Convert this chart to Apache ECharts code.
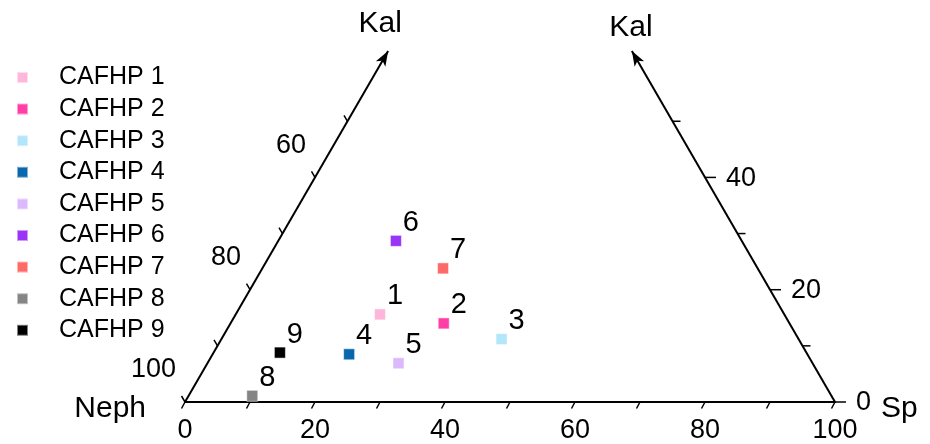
<!DOCTYPE html>
<html>
<head>
<meta charset="utf-8">
<script src="https://cdn.jsdelivr.net/npm/echarts@6/dist/echarts.min.js"></script>
<style>
html, body { margin: 0; padding: 0; background: #ffffff; }
#main { width: 930px; height: 444px; }
</style>
</head>
<body>
<div id="main"></div>
<script>
// samples
const names = ['CAFHP 1', 'CAFHP 2', 'CAFHP 3', 'CAFHP 4', 'CAFHP 5', 'CAFHP 6', 'CAFHP 7', 'CAFHP 8', 'CAFHP 9'];
const colors = ['#ffb6db', '#ff3fa6', '#b3e5fb', '#0a67ad', '#dcb9fc', '#9a35f7', '#fe6a68', '#858585', '#000000'];
// composition in % (Neph = 100 - Sp - Kal)
const kal = [15.6, 14.0, 11.2, 8.5, 6.9, 28.7, 23.8, 1.1, 8.8];
const sp = [22.2, 32.8, 43.1, 21.0, 29.4, 18.1, 27.8, 9.8, 10.2];

// axes
const bottomTicks = [0, 10, 20, 30, 40, 50, 60, 70, 80, 90, 100];
const sideTicks = [0, 10, 20, 30, 40, 50];
const sideLabelPos = [0, 20, 40];      // Kal value where a side label sits
const leftLabels = ['100', '80', '60'];
const rightLabels = ['0', '20', '40'];
const axisTop = 62.5;                  // Kal value where the side arrows end

const H = Math.sqrt(3) / 2;
const FONT = '"Liberation Sans", Arial, sans-serif';

// ternary (Sp, Kal) -> plane
function toXY(s, k) {
  return [s + k / 2, k * H];
}

function line(a, b, w) {
  return {
    type: 'line',
    shape: { x1: a[0], y1: a[1], x2: b[0], y2: b[1] },
    style: { stroke: '#000', lineWidth: w }
  };
}

function text(p, str, size, align) {
  return {
    type: 'text',
    x: p[0],
    y: p[1],
    style: {
      text: str, fill: '#000', fontSize: size, fontFamily: FONT,
      align: align, verticalAlign: 'middle'
    }
  };
}

function arrow(from, tip) {
  const dx = tip[0] - from[0], dy = tip[1] - from[1];
  const len = Math.sqrt(dx * dx + dy * dy);
  const ux = dx / len, uy = dy / len;
  const nx = -uy, ny = ux;
  const L = 15, W = 5.5;
  return {
    type: 'polygon',
    shape: {
      points: [
        tip,
        [tip[0] - ux * L + nx * W, tip[1] - uy * L + ny * W],
        [tip[0] - ux * L * 0.75, tip[1] - uy * L * 0.75],
        [tip[0] - ux * L - nx * W, tip[1] - uy * L - ny * W]
      ]
    },
    style: { fill: '#000' }
  };
}

function renderFrame(params, api) {
  const els = [];
  const bl = api.coord([0, 0]);
  const br = api.coord([100, 0]);
  const lt = api.coord(toXY(0, axisTop));
  const rt = api.coord(toXY(100 - axisTop, axisTop));

  els.push(line(bl, lt, 2), line(br, rt, 2));
  els.push(arrow(bl, lt), arrow(br, rt));

  // bottom ticks, slanted down-left
  bottomTicks.forEach(function (v) {
    const p = api.coord([v, 0]);
    els.push(line(p, [p[0] - 3.5, p[1] + 6.5], 1.5));
  });

  // side ticks
  sideTicks.forEach(function (k) {
    const pl = api.coord(toXY(0, k));
    els.push(line(pl, [pl[0] - 3.5, pl[1] - 6], 1.5));
    const pr = api.coord(toXY(100 - k, k));
    els.push(line(pr, [pr[0] + (k % 20 === 0 ? 11 : 8), pr[1]], 1.5));
  });

  sideLabelPos.forEach(function (k, i) {
    const pl = api.coord(toXY(0, k));
    els.push(text([pl[0] - 9, pl[1] - 32], leftLabels[i], 27, 'right'));
    const pr = api.coord(toXY(100 - k, k));
    els.push(text([pr[0] + 21, pr[1] + 1], rightLabels[i], 27, 'left'));
  });

  // axis titles
  els.push(text([lt[0] - 8, lt[1] - 27], 'Kal', 30, 'center'));
  els.push(text([rt[0] - 1, rt[1] - 23], 'Kal', 30, 'center'));
  els.push(text([bl[0] - 39, bl[1] + 7], 'Neph', 30, 'right'));
  els.push(text([br[0] + 46, br[1] + 7], 'Sp', 30, 'left'));

  return { type: 'group', children: els };
}

const chart = echarts.init(document.getElementById('main'));

const series = [{
  type: 'custom',
  renderItem: renderFrame,
  data: [[0, 0]],
  silent: true,
  z: 1
}];

names.forEach(function (name, i) {
  series.push({
    name: name,
    type: 'scatter',
    symbol: 'rect',
    symbolSize: 11,
    z: 3,
    itemStyle: { color: colors[i], borderColor: 'rgba(255,255,255,0.5)', borderWidth: 1, opacity: 1 },
    label: {
      show: true,
      position: 'inside',
      offset: [15, -18],
      formatter: String(i + 1),
      fontSize: 29,
      fontFamily: FONT,
      color: '#000'
    },
    data: [toXY(sp[i], kal[i])]
  });
});

const option = {
  animation: false,
  backgroundColor: '#ffffff',
  grid: { left: 185, width: 650, top: 13, height: 390 },
  legend: {
    data: names,
    orient: 'vertical',
    left: 11,
    top: 60,
    icon: 'rect',
    itemWidth: 11,
    itemHeight: 11,
    itemGap: 6.6,
    textStyle: { fontSize: 25, color: '#000', fontFamily: FONT, padding: [0, 0, 0, 26] }
  },
  xAxis: {
    type: 'value',
    min: 0,
    max: 100,
    interval: 20,
    splitLine: { show: false },
    axisTick: { show: false },
    axisLine: { show: true, lineStyle: { color: '#000', width: 2 } },
    axisLabel: { fontSize: 27, color: '#000', fontFamily: FONT, margin: 15 }
  },
  yAxis: {
    type: 'value',
    min: 0,
    max: 60,
    show: false
  },
  series: series
};

chart.setOption(option);
</script>
</body>
</html>
